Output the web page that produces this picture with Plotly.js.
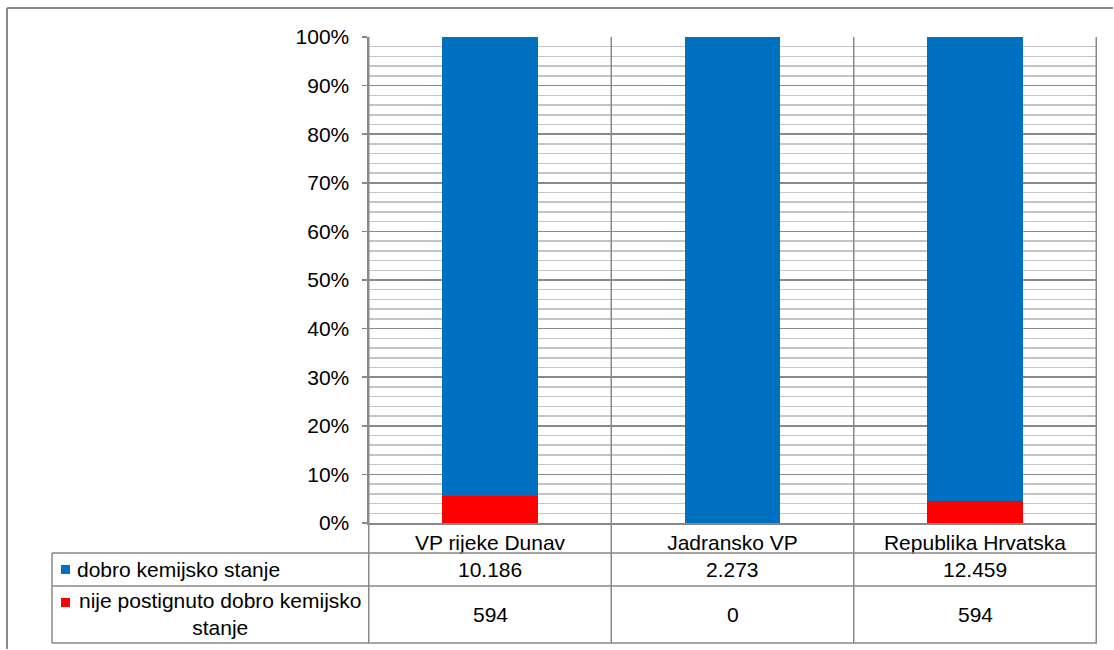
<!DOCTYPE html>
<html>
<head>
<meta charset="utf-8">
<script src="https://cdn.plot.ly/plotly-3.0.1.min.js"></script>
<style>
html,body{margin:0;padding:0;background:#fff;overflow:hidden;}
#chart{width:1114px;height:650px;}
</style>
</head>
<body>
<div id="chart"></div>
<script>
// ---- data ----
var categories = ["VP rijeke Dunav", "Jadransko VP", "Republika Hrvatska"];
var seriesNames = ["dobro kemijsko stanje", "nije postignuto dobro kemijsko<br>stanje"];
var goodValues = [10186, 2273, 12459];
var notGoodValues = [594, 0, 594];
var seriesColors = ["#0070C0", "#FF0000"];

function fmt(n){ return String(n).replace(/\B(?=(\d{3})+(?!\d))/g, "."); }

var W = 1114, H = 650;
var L = 368, R = 1097, T = 37, B = 523;
function px(x){ return (x - L) / (R - L); }
function py(y){ return (B - y) / (B - T); }

var FONT = "Liberation Sans, Arial, sans-serif";
var FS = 21;
var lineCol = "#898989";

var traces = [
  {type:"bar", x:categories, y:notGoodValues, name:seriesNames[1], marker:{color:seriesColors[1]}, hoverinfo:"skip"},
  {type:"bar", x:categories, y:goodValues, name:seriesNames[0], marker:{color:seriesColors[0]}, hoverinfo:"skip"}
];

var shapes = [];
var annotations = [];
function line(x0,y0,x1,y1,xref,col,w){
  shapes.push({type:"line", xref:xref||"paper", yref:"paper", x0:x0,y0:y0,x1:x1,y1:y1, line:{color:col||lineCol,width:w||1.5}, layer:"above"});
}
// category separators (plot + table)
for (var i = 0; i <= categories.length; i++) {
  line(i - 0.5, 1, i - 0.5, py(643), "x");
}
// table horizontal lines
line(px(52), py(553), 1, py(553));
line(px(52), py(586), 1, py(586));
line(px(52), py(643), 1, py(643));
line(px(52), py(553), px(52), py(643));
// outer chart border (cropped at right/bottom)
line(px(7), py(8), px(1113), py(8), "paper", "#8c8c8c", 2);
line(px(7), py(8), px(7), py(649), "paper", "#8c8c8c", 2);

// legend keys
shapes.push({type:"rect", xref:"paper", yref:"paper", x0:px(61), x1:px(70), y0:py(565), y1:py(574), fillcolor:seriesColors[0], line:{width:0}});
shapes.push({type:"rect", xref:"paper", yref:"paper", x0:px(61), x1:px(70), y0:py(598), y1:py(607), fillcolor:seriesColors[1], line:{width:0}});

// row labels
annotations.push({xref:"paper", yref:"paper", x:px(75), y:py(569), xanchor:"left", yanchor:"middle", text:seriesNames[0], showarrow:false, font:{family:FONT,size:FS,color:"#000"}});
annotations.push({xref:"paper", yref:"paper", x:px(220), y:py(614), xanchor:"center", yanchor:"middle", align:"center", text:seriesNames[1], showarrow:false, font:{family:FONT,size:FS,color:"#000"}});

// values
for (var j = 0; j < categories.length; j++) {
  annotations.push({xref:"x", yref:"paper", x:categories[j], y:py(569), xanchor:"center", yanchor:"middle", text:fmt(goodValues[j]), showarrow:false, font:{family:FONT,size:FS,color:"#000"}});
  annotations.push({xref:"x", yref:"paper", x:categories[j], y:py(614), xanchor:"center", yanchor:"middle", text:fmt(notGoodValues[j]), showarrow:false, font:{family:FONT,size:FS,color:"#000"}});
}

var layout = {
  width: W, height: H,
  margin: {l: L, r: W - R, t: T, b: H - B, pad: 0},
  paper_bgcolor: "#fff", plot_bgcolor: "#fff",
  barmode: "stack", barnorm: "percent", bargap: 0.605,
  showlegend: false,
  font: {family: FONT, size: FS, color: "#000"},
  xaxis: {
    type: "category", showgrid: false, zeroline: false,
    showline: true, linecolor: lineCol, linewidth: 1.5,
    ticks: "", tickfont: {family: FONT, size: FS, color: "#000"},
    fixedrange: true
  },
  yaxis: {
    range: [0, 100], dtick: 10, ticksuffix: "%",
    showgrid: true, gridcolor: "#8a8a8a", gridwidth: 1.5,
    zeroline: false, showline: true, linecolor: lineCol, linewidth: 1.5,
    ticks: "outside", ticklen: 5, tickcolor: lineCol, tickwidth: 1.5,
    ticklabelstandoff: 8,
    tickfont: {family: FONT, size: FS, color: "#000"},
    minor: {dtick: 2, showgrid: true, gridcolor: "#c4c4c4", gridwidth: 1.5, ticks: ""},
    fixedrange: true
  },
  shapes: shapes,
  annotations: annotations
};

Plotly.newPlot("chart", traces, layout, {displayModeBar: false, staticPlot: true});
</script>
</body>
</html>
